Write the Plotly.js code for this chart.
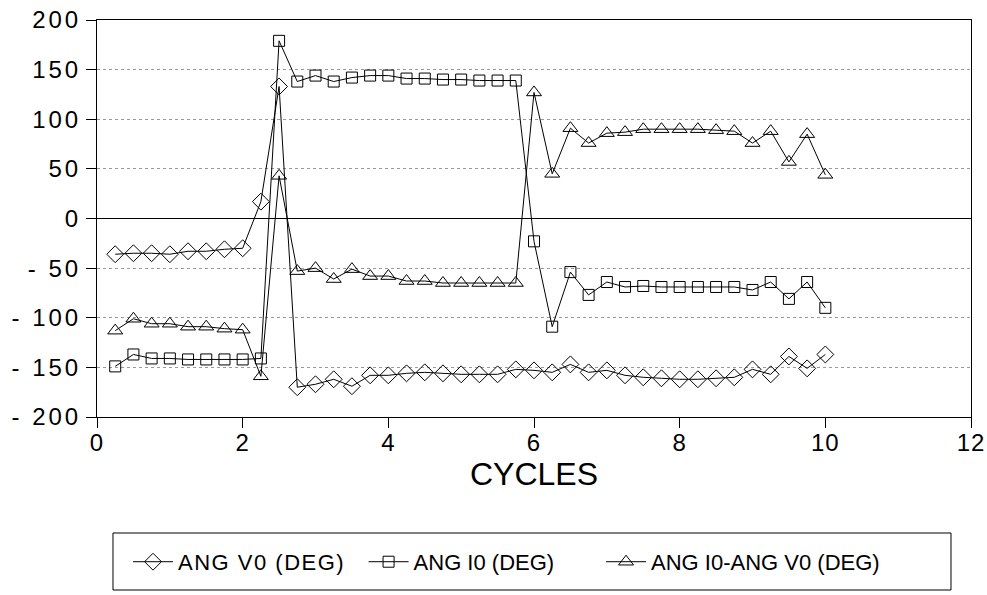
<!DOCTYPE html>
<html>
<head>
<meta charset="utf-8">
<script src="https://cdn.plot.ly/plotly-3.0.1.min.js"></script>
<style>
html,body{margin:0;padding:0;background:#fff;}
#chart{width:987px;height:595px;}
.legendtext{letter-spacing:1.5px;}
.ytick text{letter-spacing:3px;}
.xtick text{letter-spacing:1px;}
</style>
</head>
<body>
<div id="chart"></div>
<script>
const cycles = [0.25,0.5,0.75,1,1.25,1.5,1.75,2,2.25,2.5,2.75,3,3.25,3.5,3.75,4,4.25,4.5,4.75,5,
                5.25,5.5,5.75,6,6.25,6.5,6.75,7,7.25,7.5,7.75,8,8.25,8.5,8.75,9,9.25,9.5,9.75,10];
const angV0 = [-36,-35,-35,-36,-33,-33,-31,-30,17,133,-170,-167,-162,-169,-158,-158,-156,-155,-156,-157,
               -157,-157,-152,-153,-155,-147,-155,-153,-158,-160,-161,-162,-162,-161,-160,-152,-157,-139,-151,-137];
const angI0 = [-149,-137,-141,-141,-142,-142,-142,-142,-141,179,138,144,138,142,144,144,141,141,140,140,
               139,139,139,-23,-109,-54,-77,-64,-69,-68,-69,-69,-69,-69,-69,-72,-64,-81,-64,-90];
const angDiff = [-113,-101,-106,-106,-109,-109,-111,-112,-159,43,-53,-50,-61,-51,-58,-58,-63,-63,-65,-65,
                 -65,-65,-65,127,45,91,76,86,87,90,90,90,90,89,88,76,88,57,85,44];
const seriesNames = ["ANG V0 (DEG)","ANG I0 (DEG)","ANG I0-ANG V0 (DEG)"];
const yTickVals = [200,150,100,50,0,-50,-100,-150,-200];
const yTickText = ["200","150","100","50","0","- 50","- 100","- 150","- 200"];
const xTickVals = [0,2,4,6,8,10,12];

const FONT = "Liberation Sans, Arial, sans-serif";
const line = {color:"#000", width:1};
const traces = [
  {x:cycles, y:angV0, name:seriesNames[0], mode:"lines+markers", line:line, legend:"legend",
   marker:{symbol:"diamond-open", size:13, color:"#000", line:{width:1,color:"#000"}}},
  {x:cycles, y:angI0, name:seriesNames[1], mode:"lines+markers", line:line, legend:"legend2",
   marker:{symbol:"square-open", size:11, color:"#000", line:{width:1,color:"#000"}}},
  {x:cycles, y:angDiff, name:seriesNames[2], mode:"lines+markers", line:line, legend:"legend3",
   marker:{symbol:"triangle-up-open", size:13, color:"#000", line:{width:1,color:"#000"}}}
];

function leg(x){
  return {orientation:"h", x:x, xanchor:"left", y:-0.365, yanchor:"middle",
          borderwidth:0, bgcolor:"rgba(0,0,0,0)", font:{size:22, family:FONT}, itemwidth:40};
}

const layout = {
  width:987, height:595,
  margin:{l:97, r:16, t:20, b:178},
  paper_bgcolor:"#fff", plot_bgcolor:"#fff",
  font:{family:FONT, color:"#000"},
  showlegend:true,
  xaxis:{range:[0,12], tickvals:xTickVals, ticks:"outside", ticklen:10, tickcolor:"#000",
         showgrid:false, zeroline:false, showline:true, mirror:true, linecolor:"#000", linewidth:1,
         tickfont:{size:24, family:FONT}, ticklabelstandoff:-6,
         title:{text:"CYCLES", font:{size:32, family:FONT}, standoff:0}},
  yaxis:{range:[-200,200], tickvals:yTickVals, ticktext:yTickText, ticks:"outside", ticklen:10, tickcolor:"#000",
         showgrid:true, gridcolor:"#9a9a9a", griddash:"dot", gridwidth:1,
         zeroline:true, zerolinecolor:"#000", zerolinewidth:1,
         showline:true, mirror:true, linecolor:"#000", linewidth:1,
         tickfont:{size:24, family:FONT}},
  legend:leg(0.0355),
  legend2:leg(0.305),
  legend3:leg(0.5767),
  shapes:[{type:"rect", xref:"paper", yref:"paper", x0:0.0183, x1:0.9771, y0:-0.4358, y1:-0.2922,
           line:{color:"#000", width:1}, fillcolor:"rgba(0,0,0,0)"}]
};
Plotly.newPlot("chart", traces, layout, {displayModeBar:false, staticPlot:true});
</script>
</body>
</html>
